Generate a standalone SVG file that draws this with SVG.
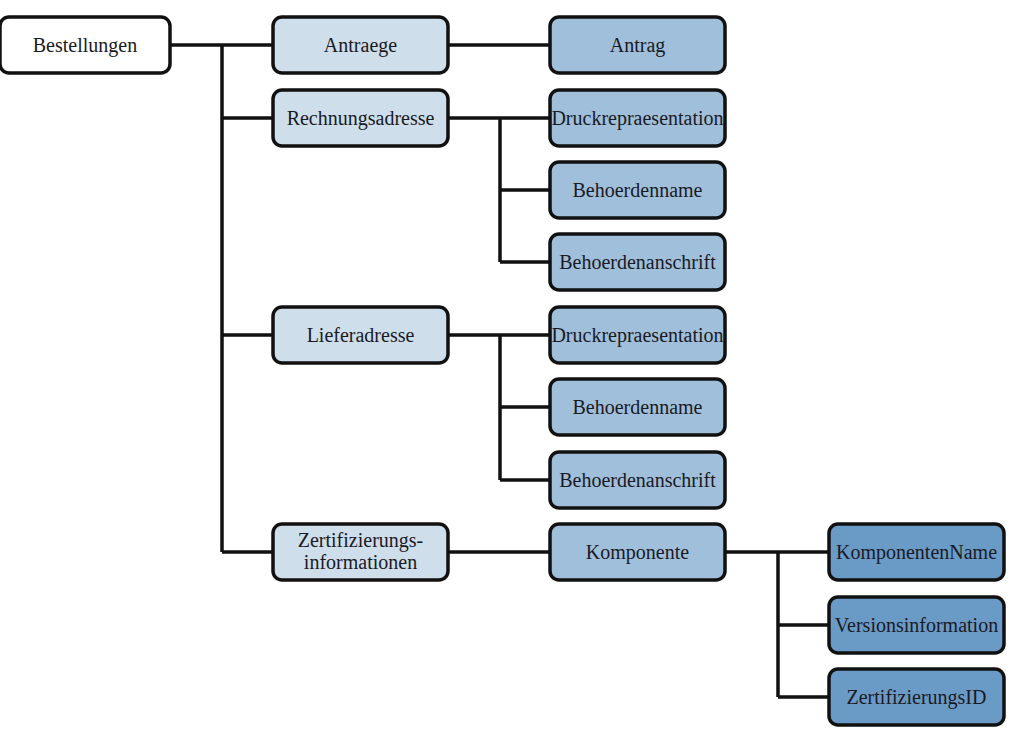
<svg xmlns="http://www.w3.org/2000/svg" width="1033" height="733" viewBox="0 0 1033 733">
  <style>
    .box { stroke: #111; stroke-width: 3.5; }
    .l0 { fill: #ffffff; }
    .l1 { fill: #cfdeeb; }
    .l2 { fill: #a0bfdb; }
    .l3 { fill: #6a9ac6; }
    text { font-family: 'Liberation Serif', 'Times New Roman', Times, serif; font-size: 20px; fill: #1a1a24; text-anchor: middle; }
    .wire { fill: none; stroke: #111; stroke-width: 3.5; }
  </style>

  <!-- connectors -->
  <g id="connectors">
    <!-- root trunk -->
    <path class="wire" d="M170,45 H273 M222,45 V552 M222,118 H273 M222,335 H273 M222,552 H273"/>
    <!-- Antraege -> Antrag -->
    <path class="wire" d="M448,45 H550"/>
    <!-- Rechnungsadresse branch -->
    <path class="wire" d="M448,118 H550 M500,118 V262 M500,190 H550 M500,262 H550"/>
    <!-- Lieferadresse branch -->
    <path class="wire" d="M448,335 H550 M500,335 V480 M500,407 H550 M500,480 H550"/>
    <!-- Zertifizierungsinformationen -> Komponente -->
    <path class="wire" d="M448,552 H550"/>
    <!-- Komponente branch -->
    <path class="wire" d="M725,552 H829 M778,552 V697 M778,625 H829 M778,697 H829"/>
  </g>

  <g id="n-bestellungen">
    <rect class="box l0" x="0" y="17" width="170" height="56" rx="9"/>
    <text x="85" y="52">Bestellungen</text>
  </g>

  <g id="n-antraege">
    <rect class="box l1" x="273" y="17" width="175" height="56" rx="9"/>
    <text x="360.5" y="52">Antraege</text>
  </g>
  <g id="n-rechnungsadresse">
    <rect class="box l1" x="273" y="90" width="175" height="56" rx="9"/>
    <text x="360.5" y="125">Rechnungsadresse</text>
  </g>
  <g id="n-lieferadresse">
    <rect class="box l1" x="273" y="307" width="175" height="56" rx="9"/>
    <text x="360.5" y="342">Lieferadresse</text>
  </g>
  <g id="n-zertifizierungsinformationen">
    <rect class="box l1" x="273" y="524" width="175" height="56" rx="9"/>
    <text x="360.5" y="547">Zertifizierungs-</text>
    <text x="360.5" y="569">informationen</text>
  </g>

  <g id="n-antrag">
    <rect class="box l2" x="550" y="17" width="175" height="56" rx="9"/>
    <text x="637.5" y="52">Antrag</text>
  </g>
  <g id="n-rechnung-druck">
    <rect class="box l2" x="550" y="90" width="175" height="56" rx="9"/>
    <text x="637.5" y="125">Druckrepraesentation</text>
  </g>
  <g id="n-rechnung-name">
    <rect class="box l2" x="550" y="162" width="175" height="56" rx="9"/>
    <text x="637.5" y="197">Behoerdenname</text>
  </g>
  <g id="n-rechnung-anschrift">
    <rect class="box l2" x="550" y="234" width="175" height="56" rx="9"/>
    <text x="637.5" y="269">Behoerdenanschrift</text>
  </g>
  <g id="n-liefer-druck">
    <rect class="box l2" x="550" y="307" width="175" height="56" rx="9"/>
    <text x="637.5" y="342">Druckrepraesentation</text>
  </g>
  <g id="n-liefer-name">
    <rect class="box l2" x="550" y="379" width="175" height="56" rx="9"/>
    <text x="637.5" y="414">Behoerdenname</text>
  </g>
  <g id="n-liefer-anschrift">
    <rect class="box l2" x="550" y="452" width="175" height="56" rx="9"/>
    <text x="637.5" y="487">Behoerdenanschrift</text>
  </g>
  <g id="n-komponente">
    <rect class="box l2" x="550" y="524" width="175" height="56" rx="9"/>
    <text x="637.5" y="559">Komponente</text>
  </g>

  <g id="n-komponentenname">
    <rect class="box l3" x="829" y="524" width="175" height="56" rx="9"/>
    <text x="916.5" y="559">KomponentenName</text>
  </g>
  <g id="n-versionsinformation">
    <rect class="box l3" x="829" y="597" width="175" height="56" rx="9"/>
    <text x="916.5" y="632">Versionsinformation</text>
  </g>
  <g id="n-zertifizierungsid">
    <rect class="box l3" x="829" y="669" width="175" height="56" rx="9"/>
    <text x="916.5" y="704">ZertifizierungsID</text>
  </g>
</svg>
